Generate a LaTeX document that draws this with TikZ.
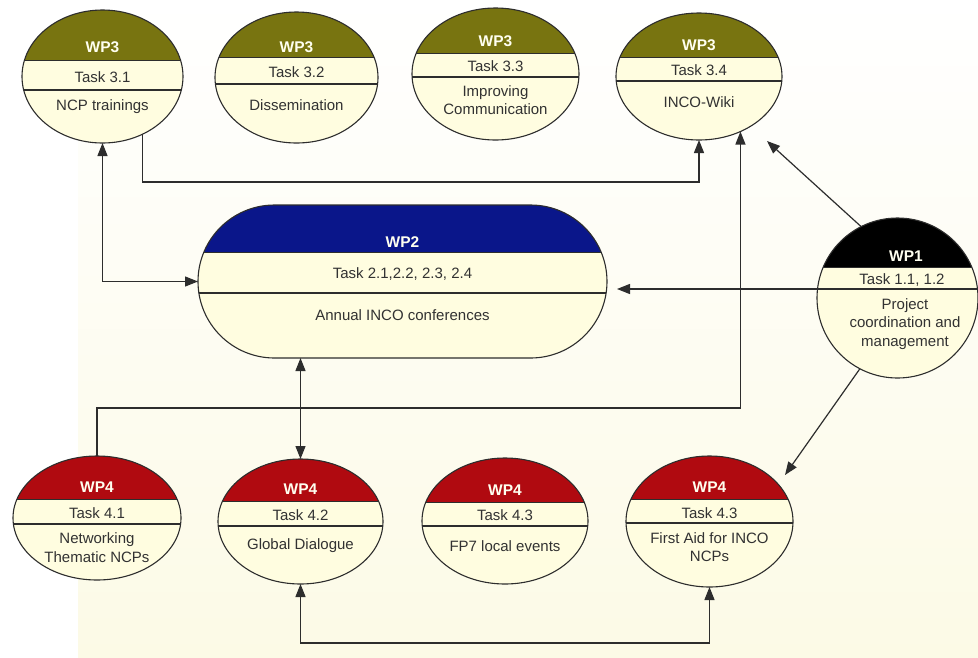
\documentclass[tikz,border=0pt]{standalone}
\usepackage{fontspec}
\setmainfont{Liberation Sans}
\usetikzlibrary{shapes.geometric,shapes.misc,arrows.meta,calc}
\definecolor{edge}{RGB}{45,45,45}
\definecolor{cream}{RGB}{255,253,224}
\definecolor{bgcream}{RGB}{252,250,230}
\definecolor{olivehd}{RGB}{120,116,16}
\definecolor{bluehd}{RGB}{10,22,138}
\definecolor{redhd}{RGB}{176,10,16}
\definecolor{txtgray}{RGB}{50,50,50}
\tikzset{
  wp/.style n args={3}{draw=edge, fill=cream, line width=1.1pt, inner sep=0pt, outer sep=0pt,
    path picture={
      \fill[#1] (path picture bounding box.north west) rectangle ([yshift=#2]path picture bounding box.east);
      \draw[edge, line width=0.8pt] ([yshift=#2]path picture bounding box.west) -- ([yshift=#2]path picture bounding box.east);
      \draw[edge, line width=1.1pt] ([yshift=#3]path picture bounding box.west) -- ([yshift=#3]path picture bounding box.east);}},
  oval/.style={ellipse},
  txt/.style={font=\fontsize{15}{18.5}\selectfont, text=txtgray, align=center, inner sep=0pt},
  hd/.style={font=\fontsize{15.5}{18}\selectfont\bfseries, text={rgb,255:red,255;green,255;blue,240}, inner sep=0pt},
  arr/.style={draw=edge, line width=1.2pt, -{Triangle[length=13pt,width=10pt]}},
  arr2/.style={draw=edge, line width=1.2pt, {Triangle[length=13pt,width=10pt]}-{Triangle[length=13pt,width=10pt]}},
}
\begin{document}
\begin{tikzpicture}[x=1pt,y=-1pt]
\useasboundingbox (0,0) rectangle (978,657);
\fill[white] (0,0) rectangle (978,657);
\shade[top color=white, bottom color=bgcream] (78,0) rectangle (978,657);

% WP3 row
\node[oval, wp={olivehd}{16.5pt}{-13.5pt}, minimum width=161, minimum height=133] (t31) at (102.5,76.5) {};
\node[hd] (t31h) at (102.5,47) {WP3};
\node[txt] (t31t) at (102.5,77) {Task 3.1};
\node[txt] (t31d) at (102.5,107) {NCP trainings};

\node[oval, wp={olivehd}{20pt}{-6.5pt}, minimum width=163, minimum height=131] (t32) at (296.5,77.5) {};
\node[hd] (t32h) at (296.5,47) {WP3};
\node[txt] (t32t) at (296.5,72) {Task 3.2};
\node[txt] (t32d) at (296.5,105) {Dissemination};

\node[oval, wp={olivehd}{21pt}{-3pt}, minimum width=167, minimum height=132] (t33) at (495.5,74) {};
\node[hd] (t33h) at (495.5,41) {WP3};
\node[txt] (t33t) at (495.5,66) {Task 3.3};
\node[txt] (t33d) at (495.5,100) {Improving\\Communication};

\node[oval, wp={olivehd}{19.5pt}{-4.5pt}, minimum width=166, minimum height=127] (t34) at (699,76.5) {};
\node[hd] (t34h) at (699,45) {WP3};
\node[txt] (t34t) at (699,70) {Task 3.4};
\node[txt] (t34d) at (699,102) {INCO-Wiki};

% WP2
\node[rounded rectangle, wp={bluehd}{29.5pt}{-11.5pt}, minimum width=409, minimum height=153] (wp2) at (402.5,281.5) {};
\node[hd] (wp2h) at (402.5,242) {WP2};
\node[txt] (wp2t) at (402.5,274) {Task 2.1,2.2, 2.3, 2.4};
\node[txt] (wp2d) at (402.5,315) {Annual INCO conferences};

% WP1
\node[oval, wp={black}{31pt}{9pt}, minimum width=161, minimum height=160] (wp1) at (897.5,298) {};
\node[hd] (wp1h) at (906,256) {WP1};
\node[txt] (wp1t) at (902,280) {Task 1.1, 1.2};
\node[txt] (wp1d) at (905,324) {Project\\coordination and\\management};

% WP4 row
\node[oval, wp={redhd}{19pt}{-6pt}, minimum width=168, minimum height=124] (t41) at (97,518) {};
\node[hd] (t41h) at (97,487) {WP4};
\node[txt] (t41t) at (97,513) {Task 4.1};
\node[txt] (t41d) at (97,547.5) {Networking\\Thematic NCPs};

\node[oval, wp={redhd}{20.5pt}{-4.5pt}, minimum width=165, minimum height=125] (t42) at (300.5,521.5) {};
\node[hd] (t42h) at (300.5,489) {WP4};
\node[txt] (t42t) at (300.5,515) {Task 4.2};
\node[txt] (t42d) at (300.5,546) {Global Dialogue};

\node[oval, wp={redhd}{19pt}{-5pt}, minimum width=166, minimum height=126] (t43a) at (505,521) {};
\node[hd] (t43ah) at (505,490) {WP4};
\node[txt] (t43at) at (505,515) {Task 4.3};
\node[txt] (t43ad) at (505,546) {FP7 local events};

\node[oval, wp={redhd}{22.5pt}{-1.5pt}, minimum width=167, minimum height=131] (t43b) at (709.5,521.5) {};
\node[hd] (t43bh) at (709.5,487) {WP4};
\node[txt] (t43bt) at (709.5,513) {Task 4.3};
\node[txt] (t43bd) at (709.5,547) {First Aid for INCO\\NCPs};

% connectors
\coordinate (c1) at (400,182);
\coordinate (c3) at (617,289);
\coordinate (c4) at (767,141);
\coordinate (c5) at (785,475);
\coordinate (c6) at (400,408);
\coordinate (c8) at (500,643);

\draw[arr] (t31.-55) |- (c1) -| (t34.south);
\draw[arr2] (t31.south) |- (wp2.west);
\draw[arr] (wp1.west |- c3) -- (c3);
\draw[arr] (wp1.117) -- (c4);
\draw[arr] (wp1.242) -- (c5);
\draw[arr] (t41.north) |- (c6) -| (t34.-53);
\draw[arr2] (t42.north |- wp2.south) -- (t42.north);
\draw[arr2] (t42.south) |- (c8) -| (t43b.south);
\end{tikzpicture}
\end{document}
